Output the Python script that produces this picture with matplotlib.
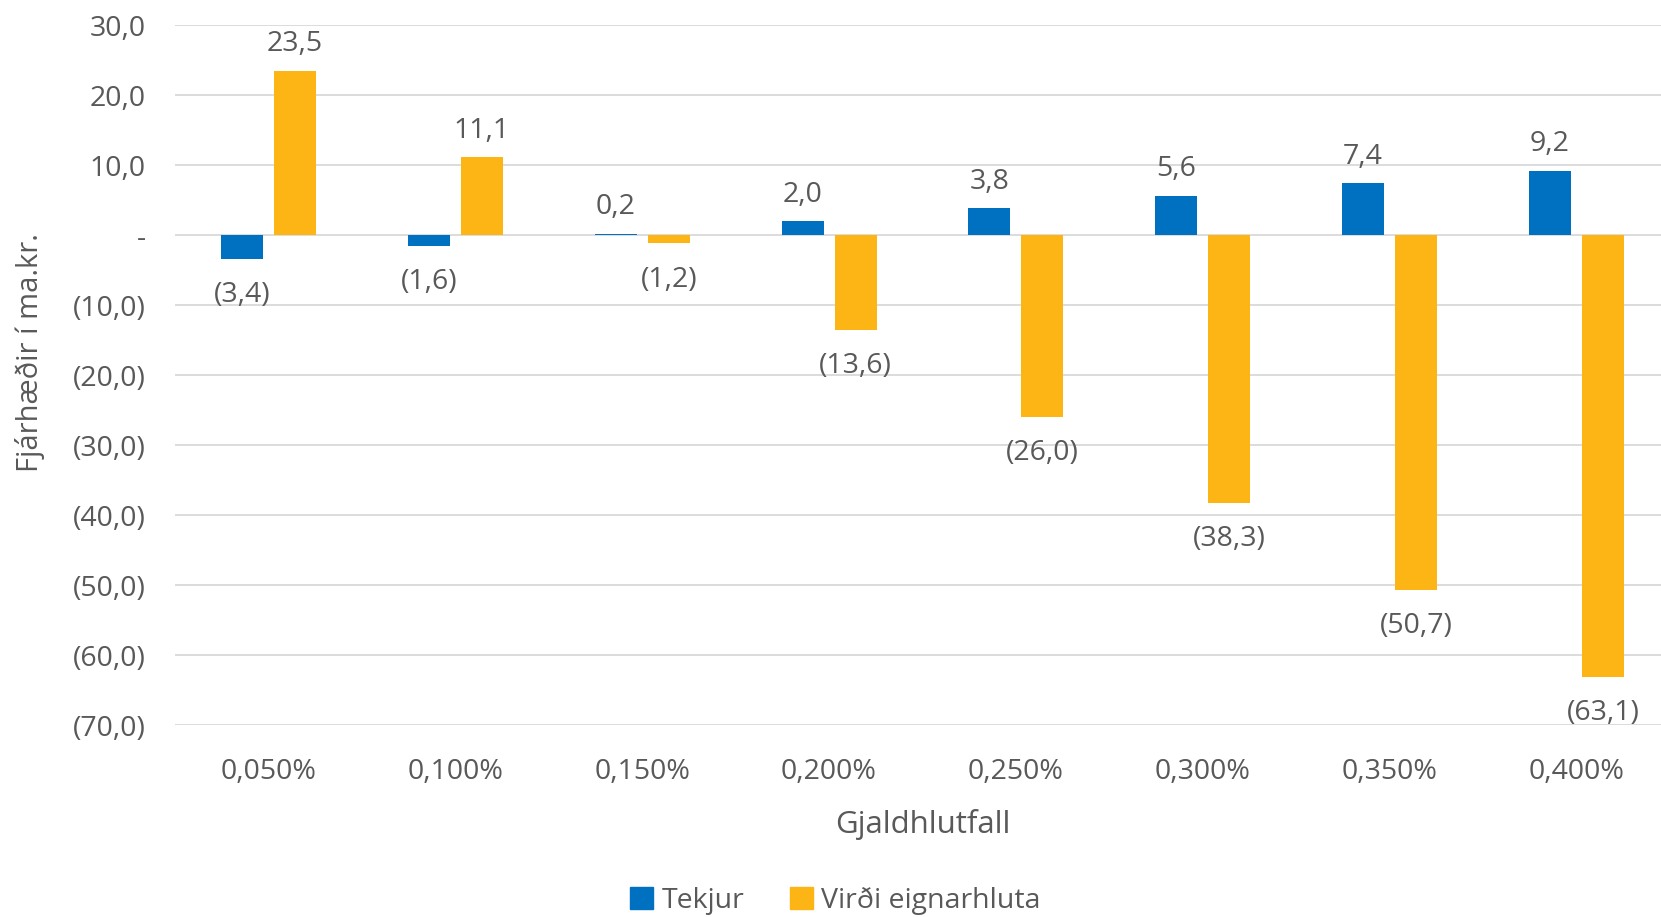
import matplotlib
matplotlib.use("Agg")
import matplotlib.pyplot as plt
import numpy as np
from matplotlib.patches import Patch

categories = ["0,050%", "0,100%", "0,150%", "0,200%", "0,250%", "0,300%", "0,350%", "0,400%"]
tekjur = [-3.4, -1.6, 0.2, 2.0, 3.8, 5.6, 7.4, 9.2]
virdi = [23.5, 11.1, -1.2, -13.6, -26.0, -38.3, -50.7, -63.1]
y_ticks = [30, 20, 10, 0, -10, -20, -30, -40, -50, -60, -70]

blue = "#0070C0"
orange = "#FDB515"
grey = "#595959"

plt.rcParams["font.family"] = ["Open Sans", "DejaVu Sans"]


def fmt(v):
    if abs(v) < 1e-9:
        return "-"
    s = f"{abs(v):.1f}".replace(".", ",")
    return f"({s})" if v < 0 else s


fig = plt.figure(figsize=(16.61, 9.17), dpi=100)
ax = fig.add_axes([175 / 1661, 1 - 725 / 917, (1670 - 175) / 1661, 700 / 917])

x = np.arange(len(categories))
w = 0.225
off = 0.142
b1 = ax.bar(x - off, tekjur, w, color=blue, zorder=3)
b2 = ax.bar(x + off, virdi, w, color=orange, zorder=3)

for bars, vals in ((b1, tekjur), (b2, virdi)):
    for bar, v in zip(bars, vals):
        cx = bar.get_x() + bar.get_width() / 2
        dy = 19 if v >= 0 else -26
        ax.annotate(fmt(v), (cx, v), xytext=(0, dy), textcoords="offset points",
                    ha="center", va="center", fontsize=20.5, color=grey)

ax.set_xlim(-0.5, len(categories) - 0.5)
ax.set_ylim(-70, 30)
ax.set_yticks(y_ticks)
ax.set_yticklabels([fmt(t) for t in y_ticks])
ax.set_xticks(x)
ax.set_xticklabels(categories)
ax.tick_params(axis="both", length=0, labelsize=20.5, labelcolor=grey)
ax.tick_params(axis="y", pad=21)
ax.tick_params(axis="x", pad=24)
ax.grid(axis="y", color="#D9D9D9", linewidth=1.3, zorder=0)
for s in ax.spines.values():
    s.set_visible(False)

ax.set_xlabel("Gjaldhlutfall", fontsize=22.5, color=grey, labelpad=16)
fig.text(30 / 1661, 1 - 353 / 917, "Fjárhæðir í ma.kr.", rotation=90, ha="center", va="center",
         fontsize=21, color=grey)

handles = [Patch(color=blue, label="Tekjur"), Patch(color=orange, label="Virði eignarhluta")]
fig.legend(handles=handles, loc="center", bbox_to_anchor=(0.503, 1 - 901 / 917), ncol=2, frameon=False,
           fontsize=20.5, labelcolor=grey, handlelength=0.8, handleheight=0.8, handletextpad=0.3,
           columnspacing=1.6)

fig.savefig("out.png", dpi=100)
